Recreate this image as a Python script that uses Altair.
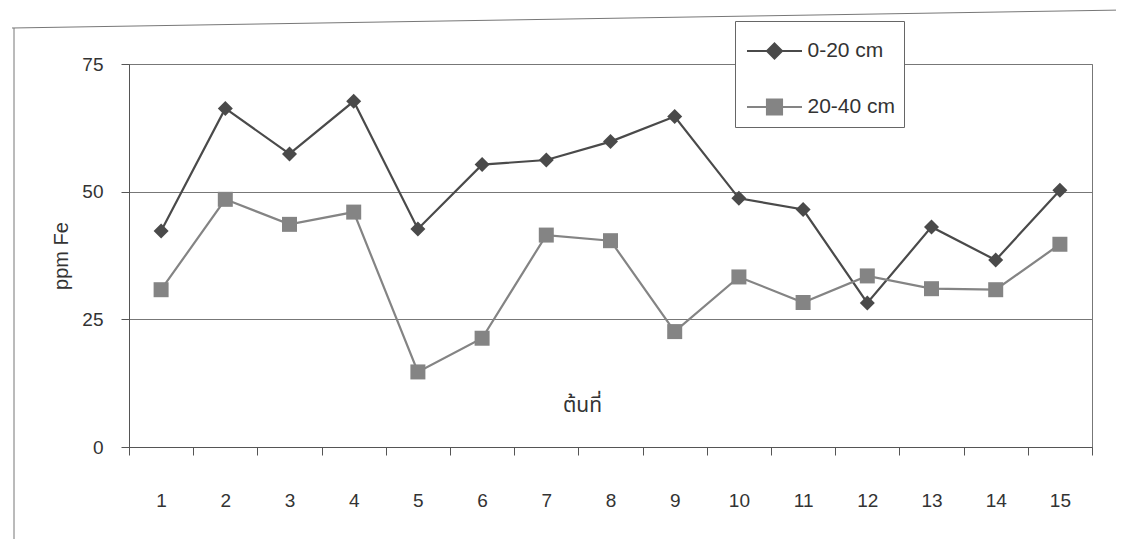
import altair as alt
import pandas as pd

trees = list(range(1, 16))
depth_0_20 = [42.3, 66.3, 57.4, 67.7, 42.7, 55.3, 56.2, 59.8, 64.7, 48.7, 46.5, 28.2, 43.1, 36.6, 50.3]
depth_20_40 = [30.8, 48.5, 43.6, 46.0, 14.7, 21.3, 41.5, 40.4, 22.6, 33.3, 28.3, 33.5, 31.0, 30.8, 39.7]
series_names = ["0-20 cm", "20-40 cm"]
y_ticks = [0, 25, 50, 75]

rows = []
for t, a, b in zip(trees, depth_0_20, depth_20_40):
    rows.append({"tree": t, "series": series_names[0], "fe": a})
    rows.append({"tree": t, "series": series_names[1], "fe": b})
df = pd.DataFrame(rows)

colors = ["#4a4a4a", "#848484"]
FONT = "Liberation Sans, Arial, sans-serif"
THAI_FONT = "Noto Sans Thai, Noto Sans Thai UI, Loma, Garuda, Noto Sans, sans-serif"

W, H = 963, 383

x_enc = alt.X(
    "tree:O",
    bandPosition=0.5,
    scale=alt.Scale(type="band", paddingInner=0, paddingOuter=0),
    axis=alt.Axis(
        labelAngle=0, tickBand="extent", tickSize=8, labelPadding=36,
        labelFontSize=19, labelFont=FONT, labelColor="#333",
        domainColor="#555", tickColor="#555", grid=False,
        title="ต้นที่", titleFont=THAI_FONT, titleFontSize=21,
        titleFontWeight="normal", titleColor="#333",
        titleX=453, titleY=-42, titleBaseline="middle", titleAlign="center",
    ),
)
y_enc = alt.Y(
    "fe:Q",
    scale=alt.Scale(domain=[0, 75], nice=False, zero=True),
    axis=alt.Axis(
        values=y_ticks, grid=True, gridColor="#777", gridWidth=1,
        tickSize=8, labelPadding=18, labelFontSize=19, labelFont=FONT,
        labelColor="#333", domainColor="#555", tickColor="#555",
        title="ppm Fe", titleFont=FONT, titleFontSize=20,
        titleFontWeight="normal", titleColor="#333",
        titleX=-62, titleY=H / 2, titleBaseline="alphabetic", titleAlign="center",
    ),
)

base = alt.Chart(df)
shapes = ["diamond", "square"]
sizes = [225, 225]

series_layers = []
for name, col in zip(series_names, colors):
    sub = base.transform_filter(alt.datum.series == name)
    series_layers.append(
        sub.mark_line(strokeWidth=2.2, color=col).encode(x=x_enc, y=y_enc)
    )
for name, col, shp, sz in zip(series_names, colors, shapes, sizes):
    sub = base.transform_filter(alt.datum.series == name)
    series_layers.append(
        sub.mark_point(filled=True, opacity=1, size=sz, shape=shp, color=col).encode(x=x_enc, y=y_enc)
    )

path_diamond = "M-1.31,0L1.31,0M0,-0.36L0.36,0L0,0.36L-0.36,0Z"
path_square = "M-1.31,0L1.31,0M-0.36,-0.36L0.36,-0.36L0.36,0.36L-0.36,0.36Z"

legend_def = alt.Legend(
    title=None, orient="none", legendX=606, legendY=-43,
    padding=8, rowPadding=22, symbolSize=1764, symbolStrokeWidth=2,
    symbolOffset=9.5, labelOffset=11, labelFontSize=21, labelFont=FONT,
    labelColor="#333", strokeColor="#666", fillColor="white", symbolOpacity=1,
)
legend_layer = base.mark_point(filled=True, clip=True, size=1764, opacity=1).encode(
    x=alt.value(10), y=alt.value(-600),
    fill=alt.Fill("series:N", scale=alt.Scale(domain=series_names, range=colors), legend=legend_def),
    stroke=alt.Stroke("series:N", scale=alt.Scale(domain=series_names, range=colors), legend=legend_def),
    shape=alt.Shape("series:N", scale=alt.Scale(domain=series_names, range=[path_diamond, path_square]), legend=legend_def),
)

frame_left = alt.Chart(pd.DataFrame({"k": [0]})).mark_rule(color="#777", strokeWidth=1).encode(
    x=alt.value(-115), y=alt.value(-36), y2=alt.value(480)
)
frame_top = alt.Chart(pd.DataFrame({"k": [0]})).mark_rule(color="#777", strokeWidth=1).encode(
    x=alt.value(-117), x2=alt.value(995), y=alt.value(-36), y2=alt.value(-54)
)

chart = alt.layer(frame_left, frame_top, *series_layers, legend_layer).properties(
    width=W, height=H,
    autosize=alt.AutoSizeParams(type="none"),
    padding={"left": 121, "top": 56, "right": 24, "bottom": 92},
    background="white",
).configure_view(stroke="#777", strokeWidth=1)

chart.save("out.html", embed_options={"renderer": "svg", "actions": False})
